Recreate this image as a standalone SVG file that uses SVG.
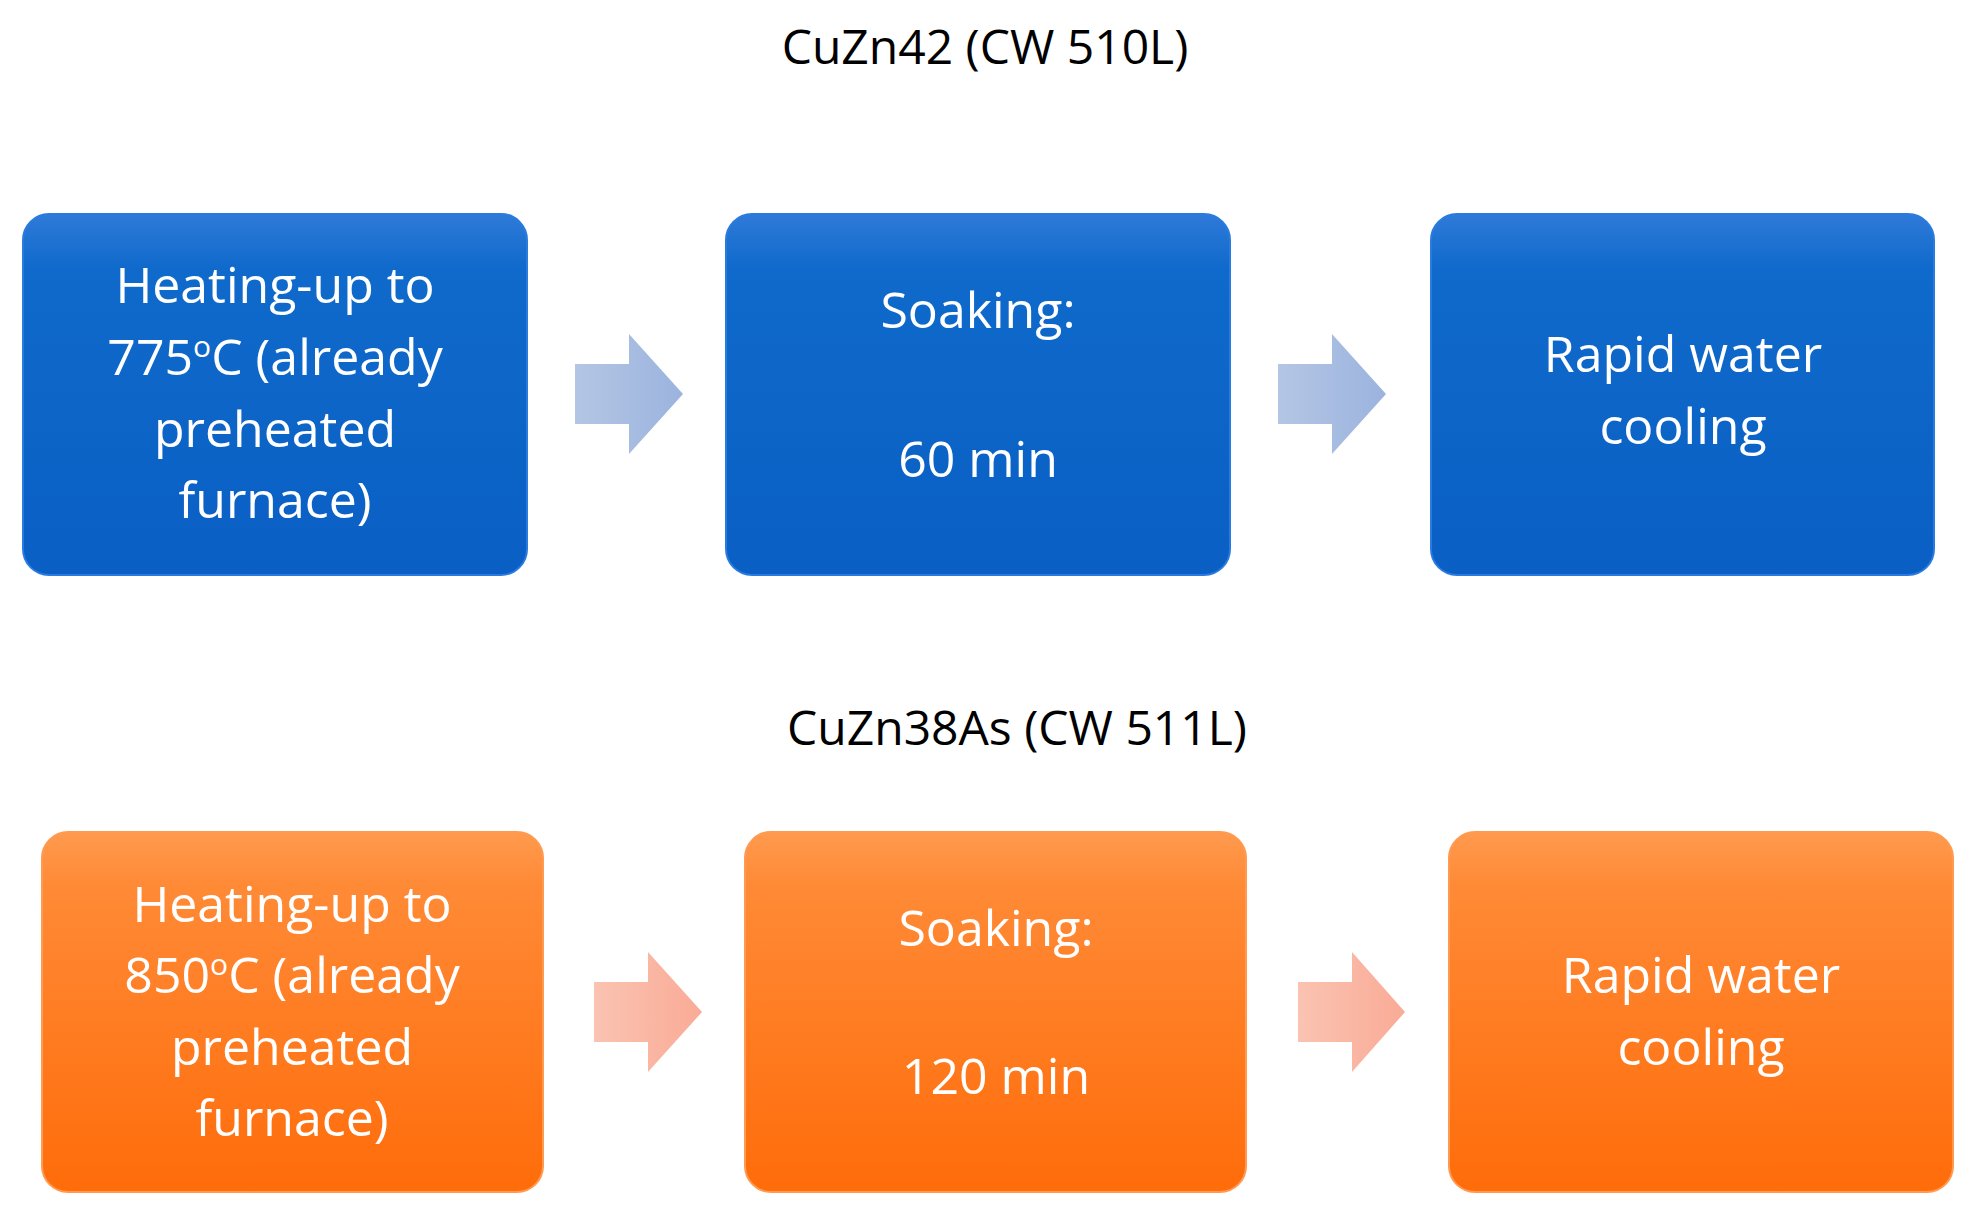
<svg xmlns="http://www.w3.org/2000/svg" width="1976" height="1223" viewBox="0 0 1976 1223">
<defs>
<linearGradient id="gb" x1="0" y1="0" x2="0" y2="1"><stop offset="0" stop-color="#2f7ad8"/><stop offset="0.15" stop-color="#0f6acb"/><stop offset="1" stop-color="#0a5fc4"/></linearGradient>
<linearGradient id="go" x1="0" y1="0" x2="0" y2="1"><stop offset="0" stop-color="#ff9a4e"/><stop offset="0.15" stop-color="#ff8a36"/><stop offset="1" stop-color="#ff6c0a"/></linearGradient>
<linearGradient id="ab" x1="0" y1="0" x2="1" y2="0"><stop offset="0" stop-color="#b4c6e4"/><stop offset="1" stop-color="#9bb3de"/></linearGradient>
<linearGradient id="ao" x1="0" y1="0" x2="1" y2="0"><stop offset="0" stop-color="#fbc3b2"/><stop offset="1" stop-color="#f9ab96"/></linearGradient>
</defs>
<style>
.t{font-family:"Open Sans","Liberation Sans",sans-serif;font-size:50px;fill:#fff;text-anchor:middle}
.h{font-family:"Open Sans","Liberation Sans",sans-serif;font-size:48px;fill:#000;text-anchor:middle}
.b{fill:url(#gb);stroke:#2a7be0;stroke-width:2}
.o{fill:url(#go);stroke:#ff9a50;stroke-width:2}
</style>
<rect width="1976" height="1223" fill="#fff"/>
<text class="h" x="985" y="64">CuZn42 (CW 510L)</text>
<text class="h" x="1017" y="745">CuZn38As (CW 511L)</text>
<g id="connectors">
<polygon points="575,364 629,364 629,334 683,394 629,454 629,424 575,424" fill="url(#ab)"/>
<polygon points="1278,364 1332,364 1332,334 1386,394 1332,454 1332,424 1278,424" fill="url(#ab)"/>
<polygon points="594,982 648,982 648,952 702,1012 648,1072 648,1042 594,1042" fill="url(#ao)"/>
<polygon points="1298,982 1352,982 1352,952 1405,1012 1352,1072 1352,1042 1298,1042" fill="url(#ao)"/>
</g>
<g id="b1"><rect class="b" x="23" y="214" width="504" height="361" rx="26"/>
<text class="t" x="275" y="303">Heating-up to</text>
<text class="t" x="275" y="375">775<tspan font-size="30" dy="-18">o</tspan><tspan dy="18">C (already</tspan></text>
<text class="t" x="275" y="447">preheated</text>
<text class="t" x="275" y="518">furnace)</text></g>
<g id="b2"><rect class="b" x="726" y="214" width="504" height="361" rx="26"/>
<text class="t" x="978" y="328">Soaking:</text><text class="t" x="978" y="477">60 min</text></g>
<g id="b3"><rect class="b" x="1431" y="214" width="503" height="361" rx="26"/>
<text class="t" x="1683" y="372">Rapid water</text><text class="t" x="1683" y="444">cooling</text></g>
<g id="o1"><rect class="o" x="42" y="832" width="501" height="360" rx="26"/>
<text class="t" x="292" y="922">Heating-up to</text>
<text class="t" x="292" y="993">850<tspan font-size="30" dy="-18">o</tspan><tspan dy="18">C (already</tspan></text>
<text class="t" x="292" y="1065">preheated</text>
<text class="t" x="292" y="1136">furnace)</text></g>
<g id="o2"><rect class="o" x="745" y="832" width="501" height="360" rx="26"/>
<text class="t" x="996" y="946">Soaking:</text><text class="t" x="996" y="1094">120 min</text></g>
<g id="o3"><rect class="o" x="1449" y="832" width="504" height="360" rx="26"/>
<text class="t" x="1701" y="993">Rapid water</text><text class="t" x="1701" y="1065">cooling</text></g>
</svg>
